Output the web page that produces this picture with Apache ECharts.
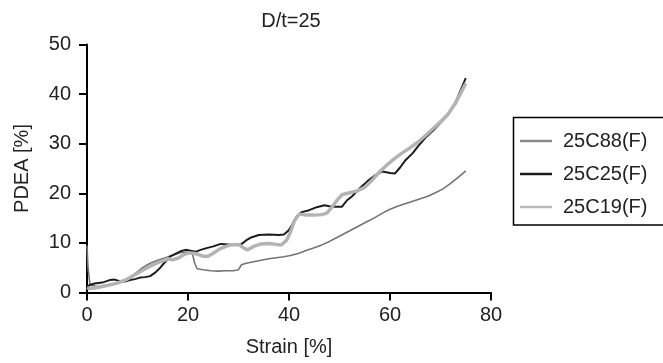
<!DOCTYPE html>
<html>
<head>
<meta charset="utf-8">
<script src="https://cdn.jsdelivr.net/npm/echarts@6/dist/echarts.min.js"></script>
<style>
html,body{margin:0;padding:0;background:#fff;overflow:hidden;}
#chart{width:663px;height:363px;}
</style>
</head>
<body>
<div id="chart"></div>
<script>
var titleText = 'D/t=25';
var seriesNames = ['25C88(F)', '25C25(F)', '25C19(F)'];
var xTicks = [0, 20, 40, 60, 80];
var yTicks = [0, 10, 20, 30, 40, 50];

var strain88 = [0, 0.2, 0.6, 2, 3.5, 5, 6.5, 8, 9.5, 11, 12.5, 14, 15.5, 17, 18.5, 20, 20.8, 21.3, 21.8, 23, 24.5, 26, 27.5, 29, 30, 30.6, 31.5, 33, 34.5, 36, 37.5, 39, 40.5, 42, 43.5, 45, 46.5, 48, 49.5, 51, 52.5, 54, 55.5, 57, 58.5, 60, 61.5, 63, 64.5, 66, 67.5, 69, 70.5, 72, 73.5, 75];
var pdea88 = [9.5, 5.0, 1.5, 1.2, 1.4, 1.6, 2.0, 2.6, 3.8, 5.0, 5.9, 6.5, 7.0, 7.5, 8.0, 8.2, 8.1, 6.0, 4.8, 4.6, 4.4, 4.3, 4.4, 4.4, 4.6, 5.6, 5.9, 6.2, 6.5, 6.8, 7.0, 7.2, 7.5, 7.9, 8.5, 9.0, 9.6, 10.3, 11.1, 11.9, 12.7, 13.5, 14.3, 15.1, 16.0, 16.8, 17.4, 17.9, 18.4, 18.9, 19.4, 20.1, 20.9, 22.0, 23.2, 24.5];

var strain25 = [0, 0.5, 1.5, 3, 4.5, 5.5, 6.5, 7.5, 8.5, 9.5, 10.5, 11.5, 12.5, 13.5, 14.5, 15.5, 16.5, 17.5, 18.5, 19.5, 20.5, 21.5, 22.5, 23.5, 25, 26.5, 28, 29.5, 30.5, 31.5, 32.5, 34, 36, 38, 39, 40, 40.8, 41.5, 42.5, 44, 45.5, 47, 48, 49, 50.5, 51.5, 52.5, 54, 55.5, 57, 58.5, 60, 61, 62, 63, 64.5, 65.5, 67, 68.5, 70, 71.5, 73, 74, 75];
var pdea25 = [1.0, 1.5, 1.8, 2.0, 2.5, 2.6, 2.3, 2.2, 2.5, 2.7, 3.0, 3.1, 3.3, 4.0, 5.0, 6.2, 7.3, 7.8, 8.3, 8.6, 8.4, 8.2, 8.6, 8.9, 9.3, 9.8, 9.7, 9.6, 9.7, 10.5, 11.1, 11.6, 11.7, 11.6, 11.7, 12.6, 14.0, 15.3, 16.2, 16.6, 17.2, 17.6, 17.4, 17.3, 17.3, 18.6, 19.4, 21.0, 22.4, 23.6, 24.4, 24.1, 24.0, 25.2, 26.6, 28.1, 29.4, 31.2, 32.6, 34.2, 35.8, 38.4, 40.8, 43.2];

var strain19 = [0, 0.5, 2, 4, 6, 8, 9.5, 11, 12.5, 14, 15, 16, 17, 18, 19, 20, 21, 22, 23, 24, 25, 26.3, 27.5, 28.5, 30, 31, 31.8, 33, 34.5, 36, 37.5, 38.5, 39.5, 40.3, 41, 42, 43.5, 45, 46.5, 47.5, 48.5, 49.5, 50.5, 52, 53.5, 55, 56.5, 58, 59.5, 61, 62.5, 64, 65.5, 67, 68.5, 70, 71.5, 73, 74, 75];
var pdea19 = [1.0, 0.8, 1.0, 1.4, 1.9, 2.7, 3.6, 4.5, 5.3, 6.0, 6.4, 6.8, 6.6, 6.9, 7.5, 8.0, 7.9, 7.7, 7.3, 7.3, 7.9, 8.8, 9.3, 9.6, 9.7, 9.0, 8.6, 9.3, 9.8, 9.9, 9.7, 9.6, 10.5, 12.2, 14.3, 15.8, 15.6, 15.6, 15.7, 16.0, 17.2, 18.6, 19.7, 20.1, 20.5, 21.2, 22.7, 24.4, 25.8, 27.1, 28.2, 29.2, 30.3, 31.6, 33.0, 34.4, 36.0, 38.2, 40.2, 42.2];

function zip(xs, ys) { return xs.map(function (x, i) { return [x, ys[i]]; }); }

var FONT = "'Liberation Sans', Arial, sans-serif";
var TXT = '#222';

var chart = echarts.init(document.getElementById('chart'), null, { renderer: 'canvas' });
chart.setOption({
  animation: false,
  backgroundColor: '#fff',
  title: {
    text: titleText,
    left: 286, top: 6, textAlign: 'center',
    textStyle: { fontFamily: FONT, fontSize: 20, fontWeight: 'normal', color: TXT }
  },
  graphic: [{
    type: 'polyline', z: 0, silent: true,
    shape: { points: [[670, 117.5], [513.5, 117.5], [513.5, 225], [670, 225]] },
    style: { fill: null, stroke: '#000', lineWidth: 1.5 }
  }],
  legend: {
    orient: 'vertical',
    left: 513, top: 117,
    padding: [12, 10, 6, 7],
    itemGap: 9,
    itemWidth: 32, itemHeight: 2.5,
    icon: 'rect',
    borderWidth: 0,
    textStyle: { fontFamily: FONT, fontSize: 20, color: TXT, lineHeight: 24, padding: [0, 0, 0, 6] },
    data: [
      { name: seriesNames[0], itemStyle: { color: '#8a8a8a' } },
      { name: seriesNames[1], itemStyle: { color: '#1c1c1c' } },
      { name: seriesNames[2], itemStyle: { color: '#b8b8b8' } }
    ]
  },
  grid: { left: 87, right: 172, top: 44.5, bottom: 70.5, outerBoundsMode: 'none' },
  xAxis: {
    type: 'value', min: xTicks[0], max: xTicks[xTicks.length - 1], interval: 20,
    name: 'Strain [%]', nameLocation: 'middle', nameGap: 45,
    nameTextStyle: { fontFamily: FONT, fontSize: 20, color: TXT },
    axisLine: { show: true, onZero: false, lineStyle: { color: '#000', width: 2 } },
    axisTick: { show: true, inside: false, length: 8, lineStyle: { color: '#000', width: 2 } },
    axisLabel: { fontFamily: FONT, fontSize: 20, color: TXT, margin: 13 },
    splitLine: { show: false }
  },
  yAxis: {
    type: 'value', min: yTicks[0], max: yTicks[yTicks.length - 1], interval: 10,
    name: 'PDEA [%]', nameLocation: 'middle', nameGap: 55, nameRotate: 90,
    nameTextStyle: { fontFamily: FONT, fontSize: 20, color: TXT },
    axisLine: { show: true, onZero: false, lineStyle: { color: '#000', width: 2 } },
    axisTick: { show: true, inside: false, length: 8, lineStyle: { color: '#000', width: 2 } },
    axisLabel: { fontFamily: FONT, fontSize: 20, color: TXT, margin: 16 },
    splitLine: { show: false }
  },
  series: [
    { name: seriesNames[0], type: 'line', data: zip(strain88, pdea88), showSymbol: false, symbol: 'none',
      lineStyle: { color: '#747474', width: 1.6 }, itemStyle: { color: '#8a8a8a' } },
    { name: seriesNames[1], type: 'line', data: zip(strain25, pdea25), showSymbol: false, symbol: 'none',
      lineStyle: { color: '#1c1c1c', width: 2 }, itemStyle: { color: '#1c1c1c' } },
    { name: seriesNames[2], type: 'line', data: zip(strain19, pdea19), showSymbol: false, symbol: 'none',
      lineStyle: { color: '#b3b3b3', width: 3.5 }, itemStyle: { color: '#b3b3b3' } }
  ]
});
</script>
</body>
</html>
